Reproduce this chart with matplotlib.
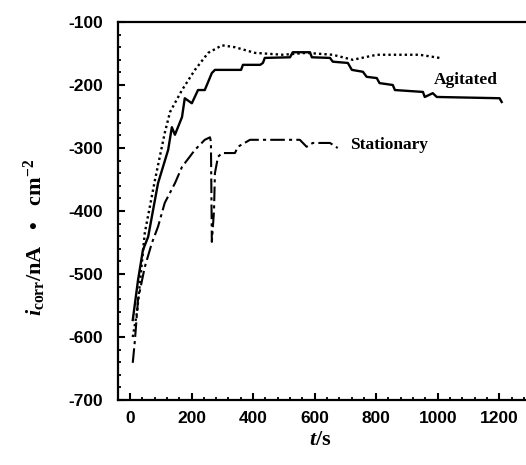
import numpy as np
import matplotlib.pyplot as plt
from matplotlib.ticker import MultipleLocator

plt.rcParams['axes.unicode_minus'] = False
plt.rcParams['mathtext.fontset'] = 'custom'
plt.rcParams['mathtext.it'] = 'Liberation Serif:italic:bold'
plt.rcParams['mathtext.rm'] = 'Liberation Serif:bold'

# данные
t_agit = [9, 26, 42, 59, 91, 124, 136, 146, 169, 178, 201, 221, 243, 266, 276, 361, 367, 423, 432,
          438, 520, 529, 585, 591, 650, 659, 708, 721, 757, 769, 802, 811, 854, 861, 952, 958, 984,
          997, 1201, 1208]
i_agit = [-573, -510, -462, -441, -356, -303, -267, -279, -251, -221, -229, -208, -208, -181, -176,
          -176, -168, -168, -165, -157, -156, -148, -148, -156, -157, -163, -165, -176, -179, -187,
          -189, -197, -200, -208, -211, -219, -213, -219, -221, -227]

t_dot = [9, 23, 48, 81, 113, 130, 169, 211, 254, 299, 341, 406, 497, 574, 659, 724, 802, 876,
         941, 1006]
i_dot = [-600, -560, -435, -351, -276, -243, -208, -176, -149, -137, -140, -149, -152, -149,
         -152, -160, -152, -152, -152, -157]

t_stat = [9, 16, 26, 48, 71, 91, 113, 146, 169, 211, 243, 260, 263, 266, 273, 276, 286, 299,
          341, 351, 390, 552, 574, 594, 650, 675]
i_stat = [-641, -605, -541, -489, -451, -425, -387, -356, -330, -303, -287, -283, -290, -449,
          -400, -340, -314, -308, -308, -298, -287, -287, -298, -292, -292, -300]

fig = plt.figure(figsize=(5.26, 4.65), dpi=100)
ax = fig.add_axes([118 / 526, 65 / 465, 412 / 526, 378 / 465])

ax.plot(t_dot, i_dot, color='black', linestyle=(0, (1, 1.3)), linewidth=1.7)
ax.plot(t_agit, i_agit, color='black', linestyle='-', linewidth=1.7)
ax.plot(t_stat, i_stat, color='black', linestyle=(0, (7, 2, 1.5, 2)), linewidth=1.5)

ax.text(987, -192, 'Agitated', family='Liberation Serif', fontweight='bold', fontsize=12.5,
        va='center', ha='left')
ax.text(714, -295, 'Stationary', family='Liberation Serif', fontweight='bold', fontsize=12.5,
        va='center', ha='left')

ax.set_xlim(-39, 1300)
ax.set_ylim(-700, -100)
ax.xaxis.set_major_locator(MultipleLocator(200))
ax.xaxis.set_minor_locator(MultipleLocator(40))
ax.yaxis.set_major_locator(MultipleLocator(100))
ax.yaxis.set_minor_locator(MultipleLocator(20))

ax.spines['right'].set_visible(False)
for s in ['left', 'bottom', 'top']:
    ax.spines[s].set_linewidth(1.6)

ax.tick_params(which='major', direction='in', length=5, width=1.5, pad=8,
               labelsize=12.5)
ax.tick_params(which='minor', direction='in', length=2.5, width=1.3)
ax.tick_params(axis='y', which='major', pad=11)
for lab in ax.get_xticklabels() + ax.get_yticklabels():
    lab.set_family('Liberation Sans')
    lab.set_fontweight('bold')

fig.text(320 / 526, 1 - 440 / 465, '$t$/s', fontsize=16, ha='center', va='center',
         family='Liberation Serif', fontweight='bold')
fig.text(35 / 526, 1 - 237 / 465, r'$i_{\rm corr}$/nA   •   cm$^{-2}$', rotation=90,
         fontsize=16, ha='center', va='center', family='Liberation Serif', fontweight='bold')

fig.savefig('out.png', dpi=100)
